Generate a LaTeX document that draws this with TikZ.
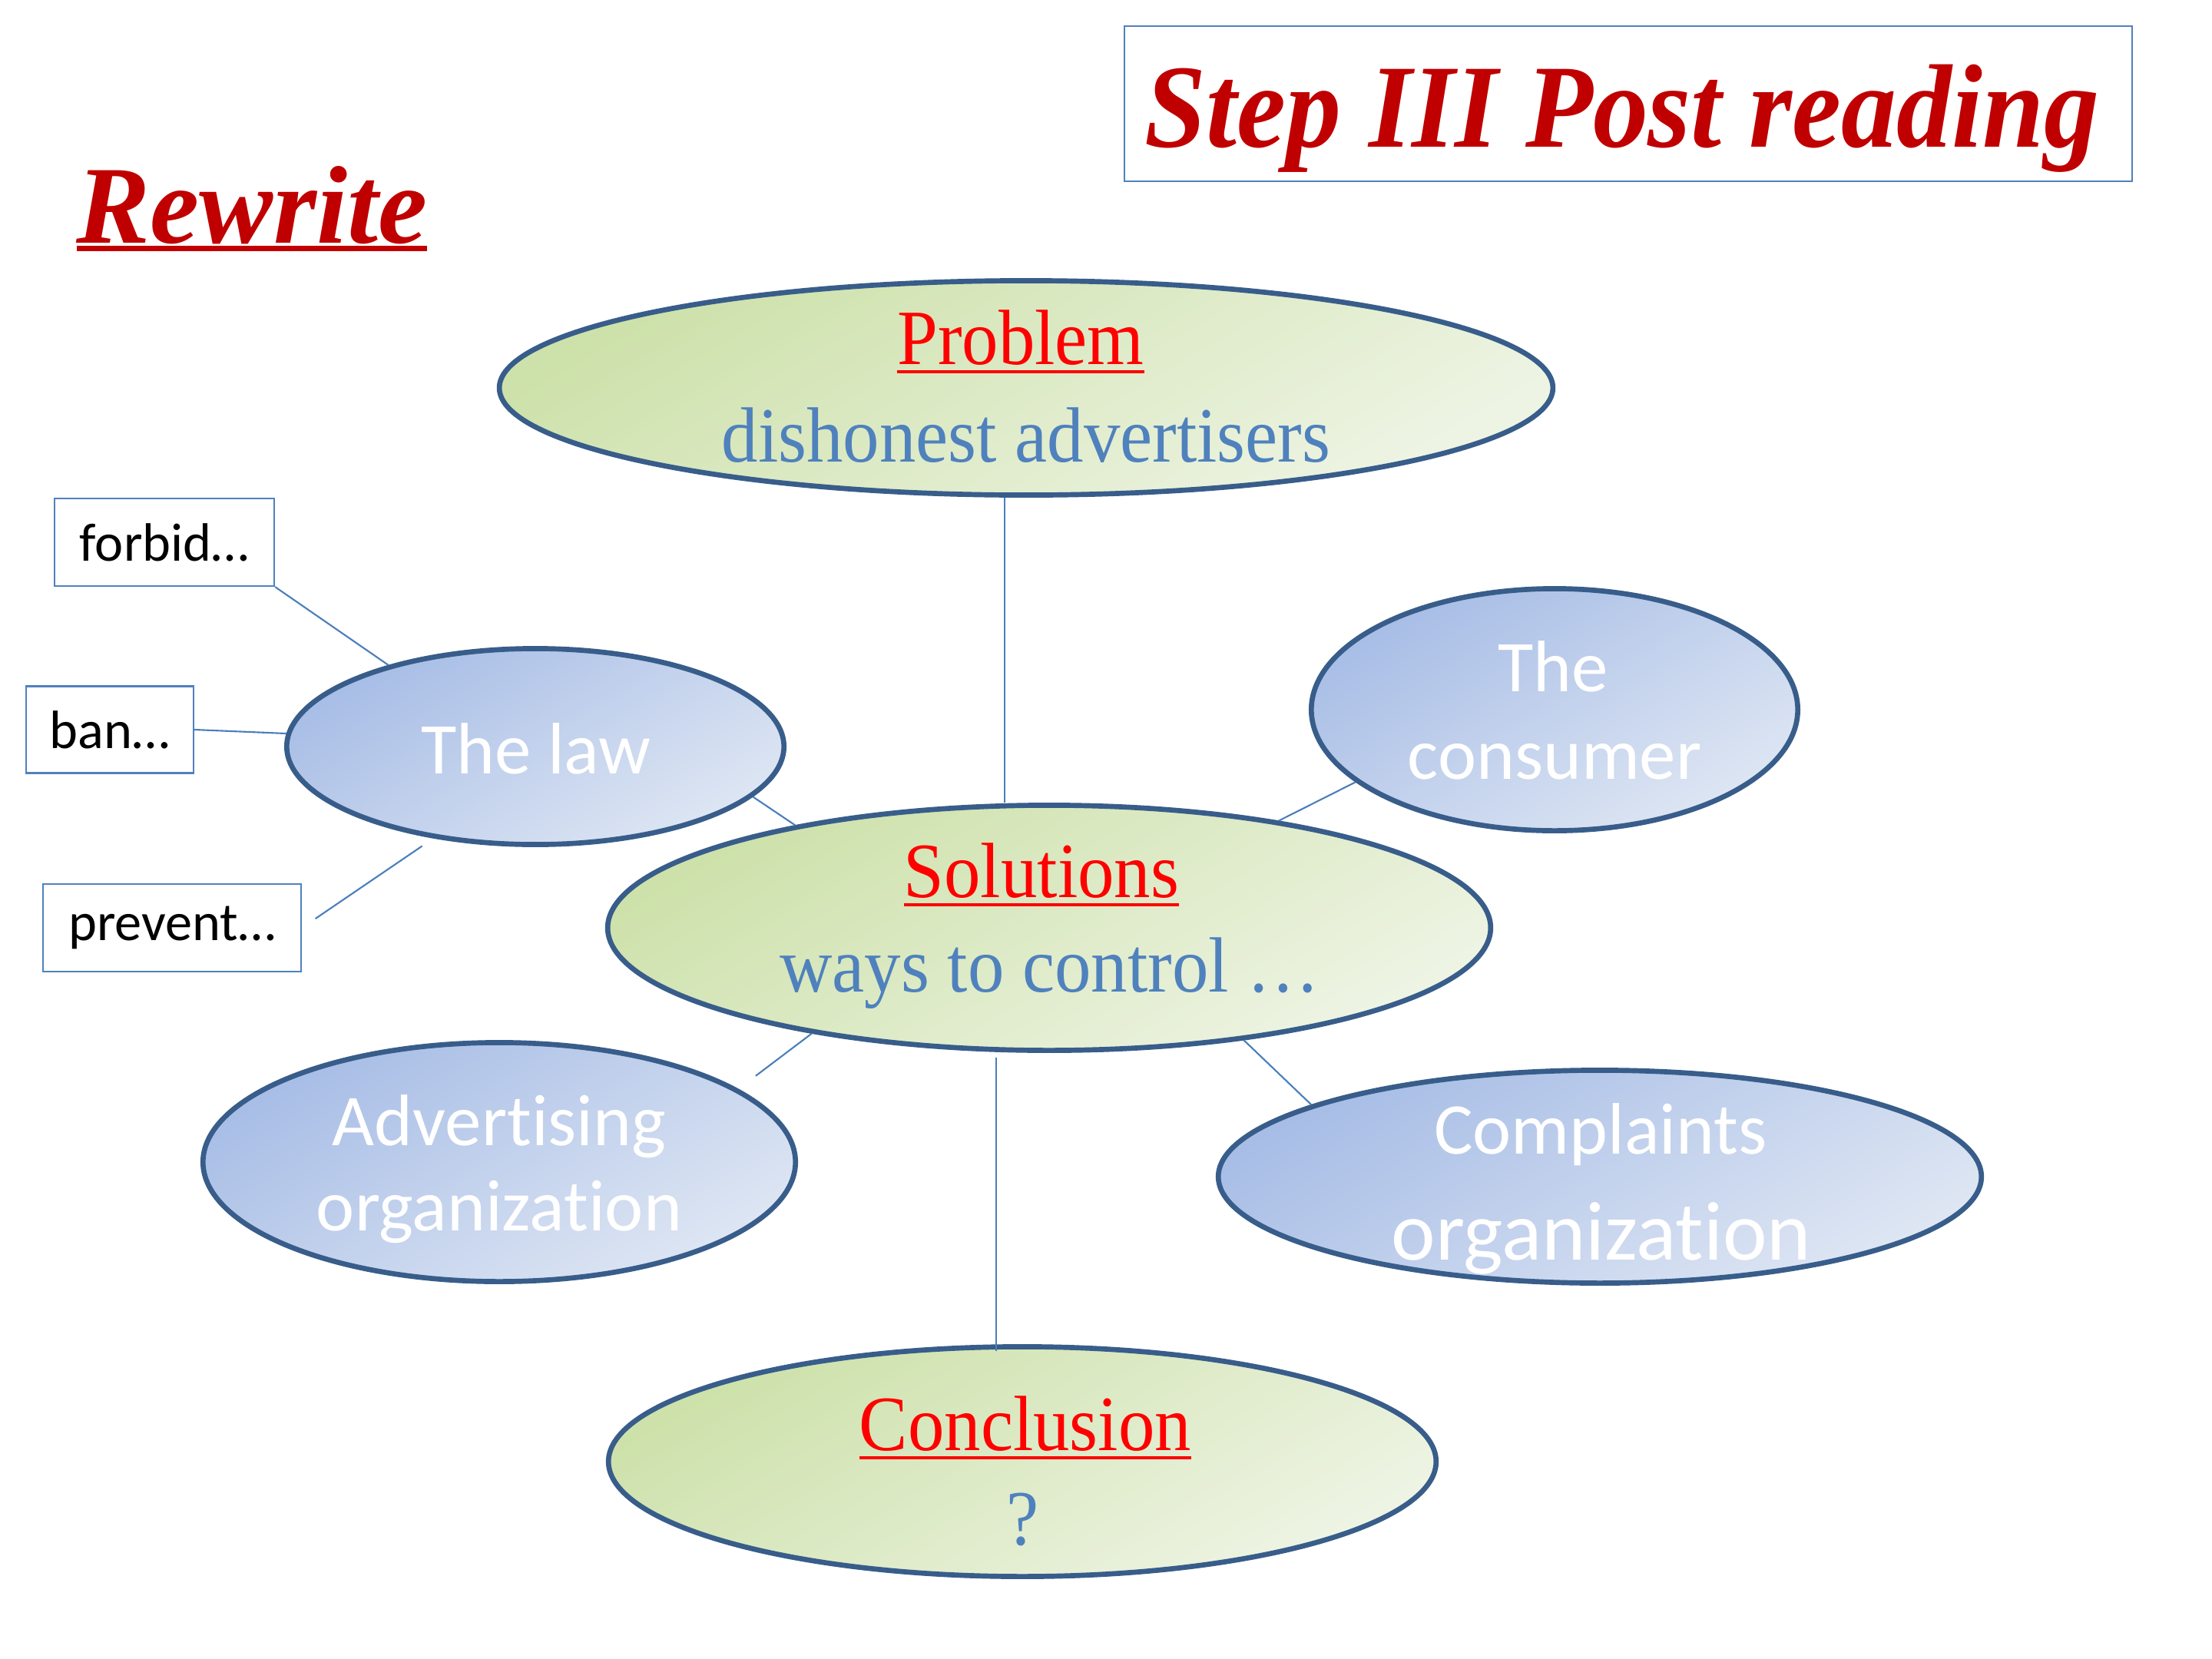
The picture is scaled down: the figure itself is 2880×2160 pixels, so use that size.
\documentclass[tikz,border=0pt]{standalone}
\usepackage{fontspec}
\setmainfont{Liberation Serif}
\newfontfamily\cserif[FakeStretch=0.93]{Liberation Serif}
\newfontfamily\calib[Ligatures=NoCommon]{Carlito}
\usetikzlibrary{shapes.geometric}
\definecolor{edge}{HTML}{385D8A}
\definecolor{linkc}{HTML}{4A7EBB}
\definecolor{txtblue}{HTML}{4F81BD}
\definecolor{darkred}{HTML}{C00000}
\definecolor{gdark}{HTML}{CDE1AA}
\definecolor{glight}{HTML}{EEF4E4}
\definecolor{bdark}{HTML}{A7BDE6}
\definecolor{blight}{HTML}{DEE6F3}
\newcommand\myul[3]{\setbox0\hbox{#3}\rlap{\rule[-#2]{\wd0}{#1}}\box0}
\begin{document}
\begin{tikzpicture}[x=0.01cm,y=-0.01cm,
 ell/.style={ellipse, draw=edge, line width=1.9pt, inner sep=0pt},
 gell/.style={ell, top color=gdark, bottom color=glight, shading angle=30},
 bell/.style={ell, top color=bdark, bottom color=blight, shading angle=30},
 linkline/.style={draw=linkc, line width=0.6pt},
 lbox/.style={draw=txtblue, line width=0.6pt, fill=white, inner sep=0pt, font=\calib\fontsize{20}{24}\selectfont},
 sertxt/.style={anchor=base, inner sep=0pt, font=\cserif\fontsize{29}{34}\selectfont},
 redtxt/.style={sertxt, text=red},
 bluetxt/.style={sertxt, text=txtblue},
 whitetxt/.style={anchor=base, inner sep=0pt, text=white, font=\calib\fontsize{27}{32}\selectfont},
]
\useasboundingbox (0,0) rectangle (2880,2160);
\fill[white] (0,0) rectangle (2880,2160);

% title and heading
\node[draw=txtblue, line width=0.6pt, minimum width=13.11cm, minimum height=2.02cm, inner sep=0pt] (titlebox) at (2120,135) {};
\node[anchor=base, inner sep=0pt, text=darkred, font=\cserif\bfseries\itshape\fontsize{44}{50}\selectfont] (title) at (2112,191) {Step III Post reading};
\node[anchor=base, inner sep=0pt, text=darkred, font=\bfseries\itshape\fontsize{41}{48}\selectfont] (rewrite) at (328,316) {\myul{2pt}{3pt}{Rewrite}};

% ellipses
\node[gell, minimum width=13.71cm, minimum height=2.79cm] (prob) at (1336,505) {};
\node[gell, minimum width=11.49cm, minimum height=3.19cm] (sol) at (1366,1208) {};
\node[gell, minimum width=10.77cm, minimum height=2.99cm] (conc) at (1331,1903) {};
\node[bell, minimum width=6.47cm, minimum height=2.55cm] (law) at (697,972) {};
\node[bell, minimum width=6.33cm, minimum height=3.15cm] (cons) at (2024,924) {};
\node[bell, minimum width=7.71cm, minimum height=3.11cm] (adv) at (650,1513) {};
\node[bell, minimum width=9.93cm, minimum height=2.77cm] (comp) at (2083,1532) {};

% boxes
\node[lbox, minimum width=2.86cm, minimum height=1.14cm] (forbid) at (214,706) {forbid…};
\node[lbox, minimum width=2.18cm, minimum height=1.13cm] (ban) at (143,950) {ban…};
\node[lbox, minimum width=3.36cm, minimum height=1.14cm] (prevent) at (224,1208) {prevent…};

% texts
\node[redtxt] (probt) at (1329,474) {\myul{1.2pt}{3.5pt}{Problem}};
\node[bluetxt] (probd) at (1336,601) {dishonest advertisers};
\node[redtxt] (solt) at (1356,1168) {\myul{1.2pt}{3.5pt}{Solutions}};
\node[bluetxt] (sold) at (1367,1291) {ways to control …};
\node[redtxt] (conct) at (1335,1888) {\myul{1.2pt}{3.5pt}{Conclusion}};
\node[bluetxt] (concd) at (1332,2011) {?};
\node[whitetxt] (lawt) at (698,1007) {The law};
\node[whitetxt] (const1) at (2022,900) {The};
\node[whitetxt] (const2) at (2024,1014) {consumer};
\node[whitetxt] (advt1) at (650,1491) {Advertising};
\node[whitetxt] (advt2) at (650,1602) {organization};
\node[whitetxt] (compt1) at (2084,1502) {Complaints};
\node[whitetxt, font=\calib\fontsize{31}{36}\selectfont] (compt2) at (2085,1640) {organization};

% connectors
\draw[linkline] (forbid.south east) -- (law.151);
\draw[linkline] (ban.east) -- (law.177);
\draw[linkline, shorten <=6pt, shorten >=5pt] (prevent.east) -- (law.222);
\draw[linkline] (law.-13) -- (sol.158);
\draw[linkline] (cons.200) -- (sol.25);
\draw[linkline, shorten >=8pt] (sol.204) -- (adv.17);
\draw[linkline] (sol.-30) -- (comp.166);
\draw[linkline] (prob.259) -- (prob.259 |- sol.north);
\draw[linkline, shorten <=2pt, shorten >=-2.5pt] (sol.247) -- (sol.247 |- conc.north);
\end{tikzpicture}
\end{document}
